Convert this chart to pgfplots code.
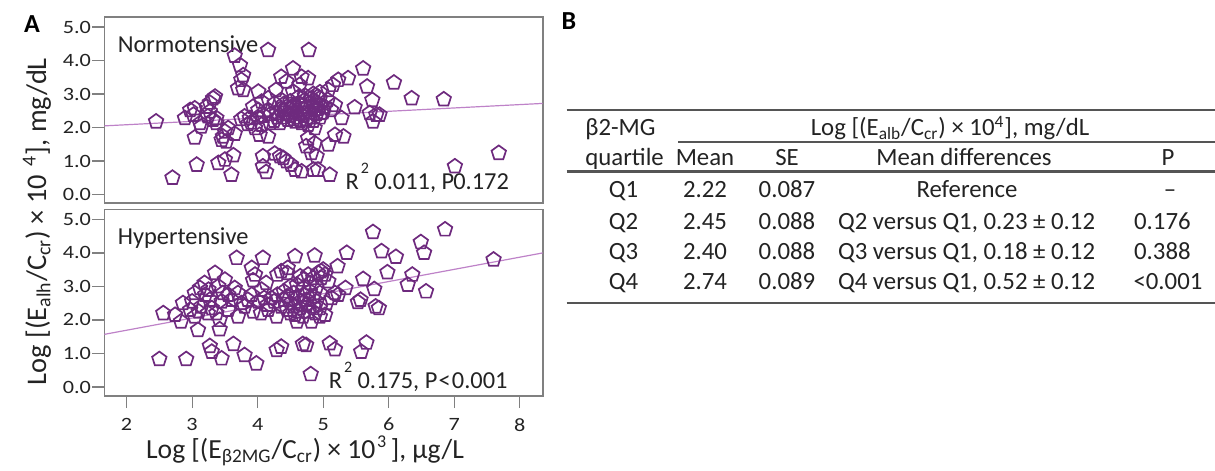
\documentclass[border=0pt]{standalone}
\usepackage{fontspec}
\setmainfont{Carlito}
\usepackage{pgfplots}
\pgfplotsset{compat=1.18}
\definecolor{mk}{RGB}{110,42,126}
\definecolor{fitcol}{RGB}{190,130,200}
\definecolor{framecol}{RGB}{128,128,128}
\definecolor{txt}{RGB}{35,35,35}
\definecolor{rulecol}{RGB}{85,85,85}

% tick numbers in the reference are a little wider than the font's natural shape
\newcommand{\wide}[1]{\scalebox{1.18}[1]{#1}}

\pgfplotsset{
  panel/.style={
    scale only axis, width=219.2pt, height=93pt,
    xmin=1.66, xmax=8.35, ymin=-0.26, ymax=5.29,
    ytick={0,1,2,3,4,5},
    yticklabel={\wide{\pgfmathprintnumber[fixed,fixed zerofill,precision=1]{\tick}}},
    /pgf/number format/assume math mode=true,
    tick align=outside, major tick length=6.2pt,
    ytick pos=left,
    tick style={framecol, line width=0.6pt},
    axis line style={framecol, line width=0.8pt},
    tick label style={font=\fontsize{9.4}{11}\selectfont, text=txt},
    yticklabel style={inner xsep=0.3pt},
  },
  pts/.style={only marks, mark=pentagon, mark size=3.8pt, color=mk, mark options={line width=0.85pt}},
  fitl/.style={fitcol, line width=0.6pt, no marks},
}
\tikzset{
  ttl/.style={anchor=base west, inner sep=0pt, font=\fontsize{12.2}{14}\selectfont, text=txt},
  rsq/.style={anchor=base east, inner sep=0pt, font=\fontsize{12.2}{14}\selectfont, text=txt},
}

\begin{document}
\begin{tikzpicture}
\path[use as bounding box] (0,0) rectangle (607.5pt,235.5pt);

% panel A, normotensive
\begin{axis}[panel, at={(52.15pt,133.85pt)}, anchor=south west, xtick=\empty]
\addplot[fitl] coordinates {(1.66,2.05) (8.35,2.72)};
\addplot[pts] coordinates {
(2.45,2.18) (2.70,0.50) (3.07,0.89) (3.60,0.59) (3.40,0.94) (3.50,1.04) (3.63,1.17)
(3.04,1.70) (3.45,1.63) (3.52,1.58) (3.47,1.73) (3.65,1.81)
(2.89,2.28) (2.97,2.52) (3.04,2.57) (3.02,2.38) (3.12,2.13) (3.24,2.33) (3.27,2.48)
(3.32,2.23) (3.37,2.13) (3.37,2.28) (3.22,2.62) (3.27,2.74) (3.32,2.87) (3.35,2.92)
(3.14,2.03) (3.55,1.98) (3.50,1.88)
(3.65,4.14) (3.73,3.86) (3.78,3.56) (3.75,3.42) (3.78,3.12) (3.70,3.17)
(4.16,4.31) (4.78,4.31)
(4.54,3.76) (4.36,3.51) (4.44,3.37) (4.64,3.27) (4.77,3.47) (4.67,3.51)
(4.01,3.07) (4.28,3.12) (4.54,3.07)
(3.80,2.33) (3.88,2.28) (4.01,2.52) (3.93,2.62) (4.06,2.77) (4.16,2.87) (4.26,2.72)
(4.36,2.82) (4.16,2.52) (4.29,2.43) (4.41,2.52) (4.52,2.62) (4.62,2.72) (4.72,2.82)
(4.82,2.87) (4.92,2.92)
(3.96,1.98) (4.03,1.78) (4.16,1.73) (4.06,2.08) (4.19,2.13) (4.34,2.13) (4.46,2.23)
(4.57,2.18) (4.67,2.13) (4.77,2.08) (4.87,1.98) (4.77,1.68) (4.87,1.53) (4.74,1.44)
(4.82,1.24) (4.90,1.14)
(4.08,1.14) (4.26,1.22) (4.34,1.14) (4.39,1.09) (4.44,0.99) (4.51,0.89) (4.57,0.74)
(4.67,0.69) (4.85,0.74) (4.13,0.67) (4.08,0.84)
(5.61,3.76) (5.38,3.47) (5.23,3.42) (5.15,3.27) (5.08,3.12) (5.67,3.22) (6.08,3.34)
(5.75,2.82) (6.35,2.87) (6.84,2.84) (5.48,2.60) (5.71,2.43) (5.81,2.38) (5.76,2.18)
(5.86,2.38) (5.28,2.28) (5.31,1.73) (5.18,1.78) (5.08,1.49) (5.10,0.59) (7.01,0.84)
(7.68,1.24) (4.92,0.74)
(4.92,2.72) (5.02,2.62) (5.12,2.52) (4.97,2.43) (4.87,2.52) (5.07,2.82) (5.18,2.67)
(4.95,2.87)
(4.40,2.30) (4.45,2.40) (4.50,2.35) (4.55,2.45) (4.60,2.50) (4.65,2.40) (4.70,2.55)
(4.75,2.60) (4.80,2.45) (4.85,2.65) (4.90,2.55) (4.95,2.65) (4.60,2.30) (4.70,2.35)
(4.80,2.30) (4.90,2.40) (4.50,2.55) (4.55,2.65) (4.65,2.70) (4.75,2.75) (4.85,2.80)
(4.30,2.30) (4.20,2.40) (4.10,2.35) (4.00,2.30) (4.35,2.55) (4.45,2.62) (4.25,2.20)
(4.55,2.25) (4.65,2.20) (4.75,2.25) (4.85,2.20) (4.95,2.30) (5.00,2.45) (4.72,2.95)
(4.62,2.90) (4.85,3.00) (4.95,3.05) (4.40,2.70) (4.50,2.78)
(3.85,2.10) (3.90,2.15) (3.75,2.25)
};
\node[ttl] at (axis cs:1.86,4.25) {Normotensive};
\node[rsq] at (axis cs:7.84,0.15) {R\hspace{0.08em}\raisebox{0.65em}{\fontsize{8}{9}\selectfont 2}\hspace{0.22em}0.011, P\hspace{-0.04em}0.172};
\end{axis}

% panel A, hypertensive
\begin{axis}[panel, at={(52.15pt,37.65pt)}, anchor=south west,
  xtick={2,3,4,5,6,7,8}, xtick pos=bottom,
  xticklabel={\wide{\pgfmathprintnumber{\tick}}},
  xticklabel style={yshift=-1.5pt}]
\addplot[fitl] coordinates {(1.66,1.57) (8.35,4.00)};
\addplot[pts] coordinates {
(2.50,0.83) (2.91,0.83) (2.56,2.20) (2.74,2.15) (2.83,1.95) (3.09,1.70) (3.27,1.22)
(3.30,1.05) (3.45,0.85) (3.63,1.28) (3.80,0.95) (3.98,0.70) (3.42,1.72) (3.42,2.00)
(2.86,2.50) (2.97,2.30) (3.04,2.10) (3.04,2.80) (3.12,2.95) (3.19,3.10) (3.27,2.60)
(3.14,2.40) (3.24,2.20) (3.35,3.40) (3.50,3.20) (3.47,2.80) (3.45,2.55) (3.37,2.20)
(3.68,3.85) (4.08,3.85) (3.91,3.55) (3.96,3.35) (3.93,3.18)
(3.70,2.80) (3.60,2.60) (3.75,2.50) (3.70,2.10) (3.91,2.75) (4.06,2.90) (4.01,2.55)
(3.93,2.25) (4.13,3.10) (4.21,2.65) (4.16,2.30) (4.29,2.10) (4.36,2.40)
(4.36,3.45) (4.46,3.55) (4.57,3.90) (4.87,3.92)
(4.29,1.10) (4.36,1.20) (4.69,1.28) (4.74,1.25) (4.81,0.38)
(4.82,1.95) (4.57,2.15) (4.69,2.10)
(4.77,3.35) (4.92,3.40) (4.97,3.25)
(5.76,4.62) (6.86,4.70) (6.49,4.32) (6.54,4.00) (5.89,4.05) (6.11,3.88) (5.36,4.00)
(5.22,3.60) (7.60,3.80) (5.98,3.42) (6.36,3.35) (6.29,3.05) (6.57,2.85) (5.61,3.22)
(5.78,2.92) (5.57,2.60) (5.53,2.53) (5.80,2.40) (5.85,2.35) (5.34,2.95) (5.08,3.15)
(4.97,3.45) (5.03,3.35) (5.10,1.30) (5.18,1.12) (5.66,1.32) (5.58,1.05) (5.18,2.80)
(5.13,2.65) (5.05,2.50) (5.03,2.15) (5.23,2.75)
(4.40,2.60) (4.45,2.70) (4.50,2.50) (4.55,2.80) (4.60,2.65) (4.65,2.55) (4.70,2.75)
(4.75,2.60) (4.80,2.85) (4.85,2.70) (4.90,2.55) (4.95,2.80) (4.55,2.40) (4.65,2.35)
(4.75,2.45) (4.85,2.40) (4.95,2.35) (4.50,3.00) (4.60,3.05) (4.70,2.95) (4.80,3.10)
(4.90,3.00) (4.45,2.30) (4.62,2.25) (4.78,2.25) (4.88,2.20) (4.70,3.20) (4.85,3.25)
(4.40,2.85) (4.30,2.75) (4.25,2.55) (4.10,2.65) (3.85,2.60) (3.65,2.95) (3.55,2.75)
(3.80,2.40) (4.15,2.45) (4.05,2.20) (3.20,2.75) (3.10,2.25) (3.30,2.35) (3.55,2.30)
(3.00,2.55) (3.25,2.90) (3.40,3.00) (4.50,2.20) (4.60,1.95) (4.95,2.10)
(4.45,3.40) (4.65,3.30) (5.00,3.50) (4.30,3.35)
};
\node[ttl] at (axis cs:1.86,4.25) {Hypertensive};
\node[rsq] at (axis cs:7.82,-0.05) {R\hspace{0.08em}\raisebox{0.65em}{\fontsize{8}{9}\selectfont 2}\hspace{0.22em}0.175, P\hspace{0.05em}<\hspace{0.05em}0.001};
\end{axis}

% axis labels of panel A
\node[rotate=90, inner sep=0pt, font=\fontsize{14.2}{16}\selectfont, text=txt] at (18.5pt,124.7pt)
  {Log [(E\textsubscript{alh}/C\textsubscript{cr}) × 10\hspace{0.3em}\textsuperscript{4}], mg/dL};
\node[anchor=base, inner sep=0pt, font=\fontsize{13.8}{16}\selectfont, text=txt] at (152.5pt,6.3pt)
  {Log [(E\textsubscript{β2MG}/C\textsubscript{cr}) × 10\hspace{0.06em}\rlap{\raisebox{0.4em}{\fontsize{9}{10}\selectfont 3}}\hspace{0.5em}], µg/L};

% panel letters
\node[font=\fontsize{13}{15}\selectfont\bfseries, text=black] at (16pt,223.5pt) {A};
\node[font=\fontsize{13}{15}\selectfont\bfseries, text=black] at (284.5pt,225pt) {B};

% panel B, table
\begin{scope}[every node/.style={inner sep=0pt, anchor=base, font=\fontsize{12.4}{14}\selectfont, text=txt}]
\draw[rulecol, line width=1.3pt] (283.3pt,180.5pt) -- (607.5pt,180.5pt);
\draw[rulecol, line width=1.1pt] (339pt,164.6pt) -- (607.5pt,164.6pt);
\draw[rulecol, line width=1.3pt] (283.3pt,149.6pt) -- (607.5pt,149.6pt);
\draw[rulecol, line width=1.3pt] (283.3pt,83.9pt) -- (607.5pt,83.9pt);

\node[anchor=base west] at (292.5pt,167.5pt) {β2-MG};
\node at (475pt,167.5pt) {Log [(E\textsubscript{alb}/C\textsubscript{cr}) × 10\textsuperscript{4}], mg/dL};

\node[anchor=base west] at (292.5pt,152.5pt) {quartile};
\node at (352.5pt,152.5pt) {Mean};
\node at (393.5pt,152.5pt) {SE};
\node at (482pt,152.5pt) {Mean differences};
\node at (584pt,152.5pt) {P};

\node at (311.75pt,136.5pt) {Q1};
\node at (352.5pt,136.5pt) {2.22};
\node at (393.5pt,136.5pt) {0.087};
\node at (483.5pt,136.5pt) {Reference};
\node at (585pt,136.5pt) {–};

\node at (311.75pt,120.75pt) {Q2};
\node at (352.5pt,120.75pt) {2.45};
\node at (393.5pt,120.75pt) {0.088};
\node at (483.3pt,120.75pt) {Q2 versus Q1, 0.23 ± 0.12};
\node at (581.2pt,120.75pt) {0.176};

\node at (311.75pt,105.75pt) {Q3};
\node at (352.5pt,105.75pt) {2.40};
\node at (393.5pt,105.75pt) {0.088};
\node at (483.3pt,105.75pt) {Q3 versus Q1, 0.18 ± 0.12};
\node at (581.2pt,105.75pt) {0.388};

\node at (311.75pt,90.75pt) {Q4};
\node at (352.5pt,90.75pt) {2.74};
\node at (393.5pt,90.75pt) {0.089};
\node at (483.3pt,90.75pt) {Q4 versus Q1, 0.52 ± 0.12};
\node at (584pt,90.75pt) {<0.001};
\end{scope}
\end{tikzpicture}
\end{document}
